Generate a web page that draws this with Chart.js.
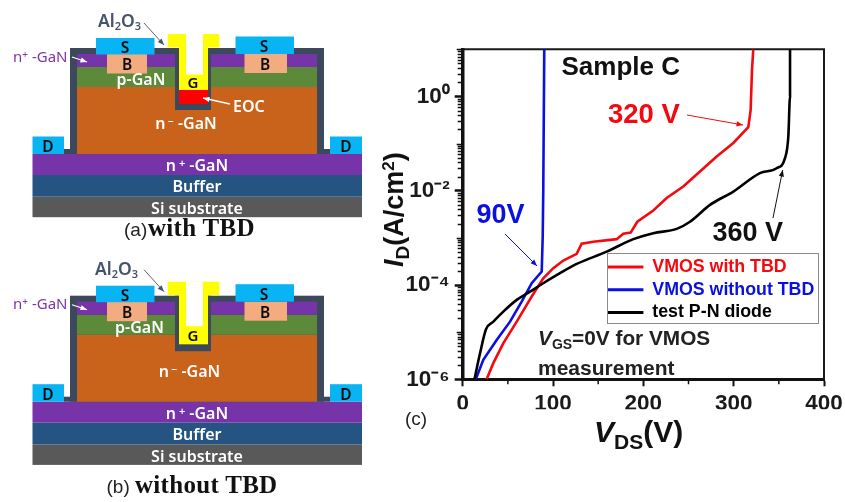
<!DOCTYPE html>
<html><head><meta charset="utf-8">
<style>
html,body{margin:0;padding:0;background:#fff}
#wrap{position:relative;width:845px;height:502px;overflow:hidden;filter:blur(0.35px)}
canvas{position:absolute;left:0;top:0}
svg{position:absolute;left:0;top:0}
</style>
<script src="https://cdn.jsdelivr.net/npm/chart.js@4"></script>
</head><body>
<div id="wrap"><canvas id="c" width="845" height="502"></canvas>
<svg id="ov" width="845" height="502" xmlns="http://www.w3.org/2000/svg"></svg></div>
<script>
// ---- data ----
const seriesNames = ['VMOS with TBD','VMOS without TBD','test P-N diode'];
const seriesColors = ['#f5090f','#0a10e0','#000000'];
const withTbdV = [26.5,33.9,44.9,59.8,76.4,89.2,100.3,111.4,126.2,131.7,144.6,170.5,177.8,186,193.3,211,225.8,244.2,262.7,281.2,299.6,316.2,318.8,320.3,321.7];
const withTbdI = [1e-6,2.2e-6,5.8e-6,1.67e-5,5.7e-5,1.39e-4,2.28e-4,3.3e-4,4.57e-4,7.5e-4,8.3e-4,9.4e-4,1.22e-3,1.29e-3,2.2e-3,3.8e-3,7e-3,1.23e-2,2.56e-2,5.3e-2,0.103,0.224,0.52,3.7,10];
const withoutTbdV = [14.5,22.8,37.6,52.4,65.3,76.4,87.5,88.6,89.2,90.3];
const withoutTbdI = [1e-6,2.6e-6,6.8e-6,1.67e-5,4.45e-5,1.09e-4,1.93e-4,1.1e-3,1e-2,10];
const diodeV = [13,19.2,25.8,33.9,44.9,59.8,74.5,89.2,107.7,126.2,159.4,188.9,211,236.9,251.6,273.8,299.6,329.1,347.6,356.8,360.5,362.4,362.4];
const diodeI = [1e-6,3.56e-6,1.15e-5,1.67e-5,2.72e-5,4.83e-5,7.24e-5,1.09e-4,1.78e-4,2.8e-4,5.1e-4,9.4e-4,1.26e-3,1.55e-3,2.2e-3,5e-3,9.6e-3,2.37e-2,3e-2,4.9e-2,0.14,1,10];
const xMajorTicks = [0,100,200,300,400];
const xMinorTicks = [50,150,250,350];
const yMajorTicks = [1e-6,1e-4,1e-2,1];
const yTickLabels = ['10⁻⁶','10⁻⁴','10⁻²','10⁰'];
const yDecades = [1e-6,1e-5,1e-4,1e-3,1e-2,1e-1,1];
const yMinorFactors = [2,3,4,5,6,7,8,9];

const zip=(xs,ys)=>xs.map((x,i)=>({x,y:ys[i]}));
const FONT='"Liberation Sans",Arial,sans-serif';

const frameAndMinor={
  id:'frameAndMinor',
  afterLayout(chart){
    const l=chart.legend;
    l.left=602.5;l.right=840;l.top=253.2;l.bottom=420;
  },
  beforeDatasetsDraw(chart){
    const {ctx,chartArea:a,scales:{x,y}}=chart;
    ctx.save();ctx.strokeStyle='#111';ctx.lineWidth=1.5;ctx.beginPath();
    yDecades.forEach(d=>yMinorFactors.forEach(f=>{
      const v=d*f;if(v>10)return;
      const p=Math.round(y.getPixelForValue(v))+.5;
      ctx.moveTo(a.left-1,p);ctx.lineTo(a.left-5,p);
    }));
    [1e-5,1e-3,1e-1,10].forEach(v=>{
      const p=Math.round(y.getPixelForValue(v))+.5;
      ctx.moveTo(a.left-1,p);ctx.lineTo(a.left-6,p);
    });
    xMinorTicks.forEach(v=>{
      const p=x.getPixelForValue(v);
      ctx.moveTo(p,a.bottom+1);ctx.lineTo(p,a.bottom+5);
    });
    ctx.stroke();
    ctx.lineWidth=2;ctx.strokeStyle='#1a1a1a';ctx.beginPath();
    ctx.moveTo(a.left,a.top);ctx.lineTo(a.right,a.top);ctx.lineTo(a.right,a.bottom);ctx.stroke();
    ctx.strokeStyle='#8a8a8a';ctx.lineWidth=1;ctx.strokeRect(607.5,253.5,211,70);
    ctx.restore();
  }
};

new Chart(document.getElementById('c'),{
  type:'line',
  data:{datasets:[
    {label:seriesNames[2],data:zip(diodeV,diodeI),borderColor:seriesColors[2],borderWidth:2.6,cubicInterpolationMode:'monotone'},
    {label:seriesNames[1],data:zip(withoutTbdV,withoutTbdI),borderColor:seriesColors[1],borderWidth:2.6},
    {label:seriesNames[0],data:zip(withTbdV,withTbdI),borderColor:seriesColors[0],borderWidth:2.6}
  ].map(d=>({...d,pointRadius:0,fill:false}))},
  plugins:[frameAndMinor],
  options:{
    responsive:false,animation:false,
    layout:{padding:{left:0,top:49.3,right:21,bottom:92.7}},
    scales:{
      x:{type:'linear',min:0,max:400,
        afterBuildTicks:s=>{s.ticks=xMajorTicks.map(value=>({value}))},
        grid:{display:true,drawOnChartArea:false,drawTicks:true,tickLength:7,tickWidth:2,tickColor:'#111'},
        border:{display:true,color:'#111',width:3},
        afterFit:s=>{s.height=30;s.paddingLeft=0;s.paddingRight=0;},
        ticks:{font:{family:FONT,size:22.5,weight:'bold'},color:'#1a1a1a',padding:4,maxRotation:0,autoSkip:false}},
      y:{type:'logarithmic',min:1e-6,max:10,
        afterBuildTicks:s=>{s.ticks=yMajorTicks.map(value=>({value}))},
        grid:{display:true,drawOnChartArea:false,drawTicks:true,tickLength:8,tickWidth:2.5,tickColor:'#111'},
        border:{display:true,color:'#111',width:3.5},
        afterFit:s=>{s.width=462.7;s.paddingTop=0;s.paddingBottom=0;},
        ticks:{font:{family:FONT,size:22.5,weight:'bold'},color:'#1a1a1a',padding:5,autoSkip:false,
          callback:v=>{const i=yMajorTicks.indexOf(v);return i<0?'':yTickLabels[i];}}}
    },
    plugins:{tooltip:{enabled:false},title:{display:false},
      legend:{display:true,position:'chartArea',align:'start',
        labels:{boxWidth:36,boxHeight:3,padding:4.9,
          font:{family:FONT,size:17.8,weight:'bold'},
          generateLabels:()=>seriesNames.map((t,i)=>({text:t,fillStyle:seriesColors[i],strokeStyle:seriesColors[i],lineWidth:0,fontColor:seriesColors[i],hidden:false,datasetIndex:2-i}))}}}
  }
});

// ---- schematic panels and annotation text ----
const C={si:'#595959',buf:'#255482',pur:'#7733a8',grn:'#5c8a3a',org:'#c9621a',cyan:'#08b4f4',peach:'#f2ac80',frame:'#3c495c',yel:'#ffff00',red:'#ff0000'};
let s='';
const R=(x,y,w,h,f)=>`<rect x="${x}" y="${y}" width="${w}" height="${h}" fill="${f}"/>`;
const T=(x,y,t,o={})=>`<text x="${x}" y="${y}" font-family='${o.ff||'"Noto Sans"'}' font-size="${o.fs||15}" font-weight="${o.fw||'bold'}" fill="${o.c||'#fff'}" text-anchor="${o.a||'middle'}"${o.tr?` transform="${o.tr}"`:''}${o.ls?` letter-spacing="${o.ls}"`:''}>${t}</text>`;
const A=(x1,y1,x2,y2,c,w=1)=>{
  const an=Math.atan2(y2-y1,x2-x1),L=7,W=.38;
  return `<line x1="${x1}" y1="${y1}" x2="${x2}" y2="${y2}" stroke="${c}" stroke-width="${w}"/><polygon fill="${c}" points="${x2},${y2} ${x2-L*Math.cos(an-W)},${y2-L*Math.sin(an-W)} ${x2-L*Math.cos(an+W)},${y2-L*Math.sin(an+W)}"/>`;
};
function panel(d,tbd){
  const Y=v=>v+d;
  const trenchBot=tbd?110:103.5, stemBot=tbd?90:96.6, gapBot=tbd?74.5:78.5;
  let o='';
  o+=R(32.5,Y(196.7),329.5,20.5,C.si);
  o+=R(32.5,Y(175),329.5,21.7,C.buf);
  o+=R(32.5,Y(154),329.5,21,C.pur);
  // isolation frame
  o+=R(64,Y(149),266,5,C.frame);
  o+=R(70,Y(48),254,106,C.frame);
  o+=R(77,Y(87),240,67,C.org);
  o+=R(77,Y(67),240,20,C.grn);
  o+=R(77,Y(54),240,13,C.pur);
  o+=R(175,Y(48),36,trenchBot-48,C.frame);
  o+=R(107,Y(54),40,19.5,C.peach);
  o+=R(244.5,Y(54),42.5,19,C.peach);
  o+=R(32.5,Y(136.5),31.5,17.5,C.cyan);
  o+=R(330,Y(136.5),32,17.5,C.cyan);
  o+=R(96,Y(38),58.5,16.5,C.cyan);
  o+=R(235.5,Y(36.5),58.5,17.5,C.cyan);
  // gate
  o+=R(167.7,Y(34),51.6,13.5,C.yel);
  o+=R(179,Y(47),29,stemBot-47,C.yel);
  o+=R(186,Y(34),17,gapBot-34,'#fff');
  if(tbd)o+=R(179,Y(90),29,14,C.red);
  const dk='#0d0d0d';
  o+=T(125,Y(53),'S',{c:dk,fs:15.5,fw:'600'});o+=T(264,Y(52),'S',{c:dk,fs:15.5,fw:'600'});
  o+=T(127,Y(70),'B',{c:dk,fs:15.5,fw:'600'});o+=T(265,Y(70),'B',{c:dk,fs:15.5,fw:'600'});
  o+=T(193,Y(tbd?88:93.5),'G',{c:dk,fs:15,fw:'600'});
  o+=T(48,Y(152),'D',{c:dk,fs:15.5,fw:'600'});o+=T(346,Y(152),'D',{c:dk,fs:15.5,fw:'600'});
  o+=T(tbd?141:139.5,Y(85),'p-GaN',{fs:16,fw:'600'});
  o+=T(tbd?186:189.5,Y(129),'n<tspan dy="-4" font-size="10"> −</tspan><tspan dy="4"> -GaN</tspan>',{fs:16,fw:'600'});
  o+=T(197,Y(171),'n<tspan dy="-4" font-size="11"> +</tspan><tspan dy="4"> -GaN</tspan>',{fs:16,fw:'600'});
  o+=T(197,Y(192),'Buffer',{fs:16,fw:'600'});
  o+=T(197,Y(214),'Si substrate',{fs:16,fw:'600'});
  o+=T(13,Y(tbd?62:61),'n<tspan dy="-4" font-size="10">+</tspan><tspan dy="4"> -GaN</tspan>',{c:'#7b35ab',a:'start',fs:15,fw:'normal'});
  o+=A(72,Y(57),87,Y(62),'#fff',1.2);
  o+=T(tbd?98:95,Y(27),'Al<tspan dy="3" font-size="11">2</tspan><tspan dy="-3">O</tspan><tspan dy="3" font-size="11">3</tspan>',{c:'#44546a',a:'start',fs:17.5,fw:'600'});
  o+=A(144,Y(tbd?23:22),164,Y(tbd?45:44),'#44546a',.9);
  return o;
}
s+=panel(0,true);
s+=panel(247.7,false);
// EOC
s+=T(233,112,'EOC',{fs:16,a:'start',fw:'600'});
s+=A(230,104,203,98,'#fff',1.4);
// captions
const ARIAL=FONT,SERIF='"Liberation Serif",serif';
s+=T(124,236,'(a)',{ff:ARIAL,fs:19,fw:'normal',c:'#222',a:'start'});
s+=T(148,236,'with TBD',{ff:SERIF,fs:25,c:'#111',a:'start',ls:'0.3'});
s+=T(106.5,493.3,'(b)',{ff:ARIAL,fs:19,fw:'normal',c:'#222',a:'start'});
s+=T(135,493.3,'without TBD',{ff:SERIF,fs:25,c:'#111',a:'start',ls:'0.3'});
s+=T(405,424.5,'(c)',{ff:ARIAL,fs:19,fw:'normal',c:'#222',a:'start'});
// chart annotations
s+=T(561.5,75,'Sample C',{ff:ARIAL,fs:26,c:'#111',a:'start'});
s+=T(608,123,'320 V',{ff:ARIAL,fs:27.5,c:'#f5090f',a:'start'});
s+=A(687,115,743,125,'#f5090f',1);
s+=T(476.5,222.7,'90V',{ff:ARIAL,fs:27,c:'#0a10e0',a:'start'});
s+=A(505,234,537,266,'#0a10e0',1);
s+=T(712.5,240.7,'360 V',{ff:ARIAL,fs:27,c:'#111',a:'start'});
s+=A(773,218,782.7,170,'#111',1);
s+=T(538,345,'<tspan font-style="italic">V</tspan><tspan dy="4" font-size="14">GS</tspan><tspan dy="-4">=0V for VMOS</tspan>',{ff:ARIAL,fs:20.8,c:'#222',a:'start'});
s+=T(538,375,'measurement',{ff:ARIAL,fs:21,c:'#222',a:'start'});
s+=T(594,441.7,'<tspan font-style="italic">V</tspan><tspan dy="7" font-size="21">DS</tspan><tspan dy="-7">(V)</tspan>',{ff:ARIAL,fs:30,c:'#111',a:'start'});
s+=T(403,267,'<tspan font-style="italic">I</tspan><tspan dy="6" font-size="19">D</tspan><tspan dy="-6">(A/cm</tspan><tspan dy="-9" font-size="17">2</tspan><tspan dy="9">)</tspan>',{ff:ARIAL,fs:27,c:'#111',a:'start',tr:'rotate(-90 403 267)'});
document.getElementById('ov').innerHTML=s;
</script>
</body></html>
